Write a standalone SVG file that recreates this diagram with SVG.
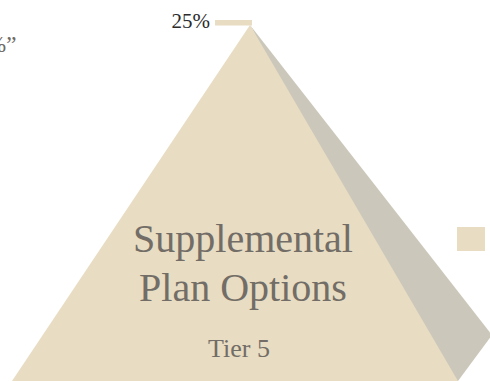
<svg xmlns="http://www.w3.org/2000/svg" width="490" height="381" viewBox="0 0 490 381">
<style>
.serif{font-family:"Liberation Serif","Times New Roman",serif;}
.big{font-size:40px;fill:#726d66;text-anchor:middle;}
.tier{font-size:26px;fill:#726d66;text-anchor:middle;}
.pct{font-size:21px;fill:#2b2b2b;}
.beige{fill:#e8dcc2;}
.shadow{fill:#cbc7ba;}
</style>
<rect width="490" height="381" fill="#ffffff"/>
<g id="quote-fragment">
<text class="serif" x="-13" y="52" font-size="23" fill="#6e6a64">%”</text>
</g>
<g id="pyramid">
<polygon class="shadow" points="250,25 492,335 458,381 440,381"/>
<polygon class="beige" points="250,25 458,381 12,381"/>
<text class="serif big" x="243" y="252">Supplemental</text>
<text class="serif big" x="243" y="301">Plan Options</text>
<text class="serif tier" x="239" y="357">Tier 5</text>
</g>
<g id="connectors">
<rect class="beige" x="215" y="20" width="37" height="5.5"/>
</g>
<g id="label-25">
<text class="serif pct" x="210" y="28" text-anchor="end">25%</text>
</g>
<g id="legend-square">
<rect class="beige" x="457" y="227" width="28" height="24"/>
</g>
</svg>
